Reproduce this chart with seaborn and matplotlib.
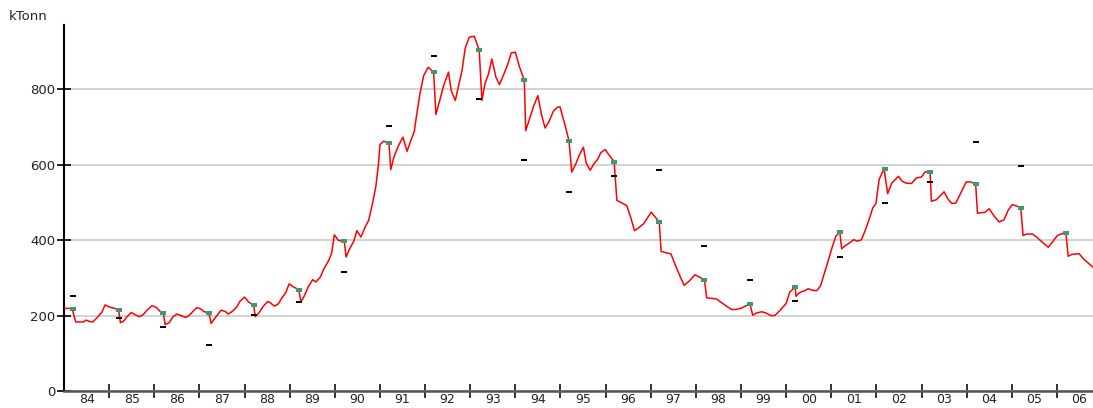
import matplotlib
matplotlib.use("Agg")
import matplotlib.pyplot as plt
import numpy as np
import pandas as pd
import seaborn as sns

# ---- data ----
line_t = [1984.00, 1984.13, 1984.18, 1984.26, 1984.43, 1984.49, 1984.57, 1984.64, 1984.73, 1984.84,
          1984.91, 1985.02, 1985.13, 1985.21, 1985.25, 1985.32, 1985.39, 1985.49, 1985.58, 1985.67,
          1985.75, 1985.84, 1985.95, 1986.04, 1986.13, 1986.20, 1986.24, 1986.33, 1986.41, 1986.50,
          1986.59, 1986.69, 1986.76, 1986.86, 1986.94, 1987.02, 1987.11, 1987.21, 1987.26, 1987.35,
          1987.48, 1987.57, 1987.64, 1987.73, 1987.83, 1987.90, 1988.00, 1988.09, 1988.20, 1988.24,
          1988.32, 1988.42, 1988.51, 1988.57, 1988.66, 1988.75, 1988.83, 1988.91, 1988.99, 1989.08,
          1989.20, 1989.25, 1989.32, 1989.42, 1989.51, 1989.58, 1989.68, 1989.76, 1989.87, 1989.93,
          1989.99, 1990.08, 1990.21, 1990.25, 1990.33, 1990.42, 1990.49, 1990.58, 1990.67, 1990.75,
          1990.83, 1990.91, 1990.97, 1991.00, 1991.08, 1991.20, 1991.24, 1991.31, 1991.41, 1991.51,
          1991.60, 1991.68, 1991.76, 1991.82, 1991.89, 1991.97, 1992.07, 1992.19, 1992.24, 1992.33,
          1992.41, 1992.52, 1992.58, 1992.67, 1992.74, 1992.82, 1992.89, 1992.98, 1993.09, 1993.20,
          1993.26, 1993.33, 1993.40, 1993.48, 1993.57, 1993.65, 1993.74, 1993.83, 1993.91, 1994.00,
          1994.09, 1994.20, 1994.23, 1994.31, 1994.40, 1994.50, 1994.58, 1994.66, 1994.75, 1994.84,
          1994.93, 1994.99, 1995.09, 1995.19, 1995.25, 1995.34, 1995.42, 1995.51, 1995.57, 1995.66,
          1995.74, 1995.83, 1995.89, 1995.99, 1996.08, 1996.19, 1996.25, 1996.34, 1996.47, 1996.56,
          1996.64, 1996.73, 1996.84, 1996.93, 1997.01, 1997.10, 1997.19, 1997.23, 1997.45, 1997.56,
          1997.65, 1997.74, 1997.85, 1997.98, 1998.09, 1998.19, 1998.24, 1998.46, 1998.57, 1998.68,
          1998.79, 1998.89, 1999.02, 1999.11, 1999.20, 1999.26, 1999.35, 1999.46, 1999.55, 1999.66,
          1999.75, 1999.86, 2000.00, 2000.08, 2000.20, 2000.22, 2000.27, 2000.34, 2000.40, 2000.49,
          2000.58, 2000.68, 2000.76, 2000.84, 2000.92, 2001.01, 2001.10, 2001.19, 2001.23, 2001.30,
          2001.41, 2001.50, 2001.58, 2001.67, 2001.76, 2001.84, 2001.92, 2001.99, 2002.06, 2002.17,
          2002.25, 2002.34, 2002.49, 2002.57, 2002.66, 2002.78, 2002.89, 2003.00, 2003.08, 2003.19,
          2003.22, 2003.33, 2003.50, 2003.58, 2003.67, 2003.76, 2003.87, 2003.99, 2004.09, 2004.20,
          2004.24, 2004.41, 2004.50, 2004.60, 2004.72, 2004.83, 2004.92, 2005.01, 2005.11, 2005.20,
          2005.25, 2005.33, 2005.46, 2005.55, 2005.68, 2005.81, 2005.90, 2006.01, 2006.11, 2006.20,
          2006.25, 2006.33, 2006.49, 2006.59, 2006.80]
line_v = [219, 219, 218, 183, 183, 188, 184, 183, 194, 209,
          228, 222, 219, 214, 181, 185, 196, 208, 202, 197,
          202, 214, 226, 222, 211, 207, 176, 181, 196, 204,
          200, 195, 199, 211, 221, 218, 210, 207, 179, 194,
          214, 211, 204, 211, 223, 238, 249, 236, 227, 197,
          207, 225, 237, 234, 225, 231, 247, 260, 284, 276,
          269, 236, 251, 278, 295, 289, 302, 324, 347, 366,
          414, 399, 397, 355, 377, 397, 425, 408, 434, 452,
          494, 542, 604, 653, 662, 657, 587, 620, 650, 673,
          635, 662, 687, 737, 790, 836, 858, 845, 733, 772,
          809, 845, 796, 770, 807, 850, 909, 938, 940, 903,
          770, 816, 838, 880, 832, 812, 838, 865, 896, 898,
          860, 823, 690, 719, 753, 783, 732, 697, 715, 741,
          752, 753, 710, 663, 580, 602, 626, 646, 604, 585,
          602, 615, 631, 640, 625, 608, 505, 500, 491, 459,
          425, 432, 443, 459, 474, 461, 448, 370, 363, 329,
          304, 280, 291, 308, 301, 295, 247, 244, 234, 225,
          216, 216, 220, 226, 230, 201, 207, 210, 207, 200,
          200, 213, 232, 262, 275, 251, 258, 263, 265, 271,
          267, 266, 278, 309, 340, 377, 410, 422, 377, 384,
          393, 401, 397, 401, 428, 455, 485, 497, 560, 590,
          523, 551, 569, 556, 551, 550, 565, 567, 581, 580,
          503, 507, 528, 510, 497, 498, 525, 554, 554, 549,
          471, 474, 483, 465, 448, 454, 479, 494, 490, 486,
          412, 416, 416, 408, 394, 381, 395, 412, 417, 419,
          357, 362, 364, 350, 328]

green_t = [1984.21, 1985.21, 1986.20, 1987.21, 1988.20, 1989.20, 1990.21, 1991.20, 1992.19, 1993.20,
           1994.20, 1995.19, 1996.19, 1997.19, 1998.19, 1999.20, 2000.20, 2001.19, 2002.20, 2003.19,
           2004.20, 2005.20, 2006.20]
green_v = [218, 214, 207, 207, 227, 269, 397, 657, 845, 903,
           823, 663, 608, 448, 295, 230, 275, 422, 588, 580,
           549, 486, 419]

black_t = [1984.21, 1985.21, 1986.20, 1987.21, 1988.20, 1989.20, 1990.21, 1991.20, 1992.19, 1993.20,
           1994.20, 1995.19, 1996.19, 1997.19, 1998.19, 1999.20, 2000.20, 2001.19, 2002.20, 2003.19,
           2004.20, 2005.20]
black_v = [251, 194, 170, 121, 201, 235, 316, 703, 889, 774,
           613, 528, 569, 587, 385, 293, 238, 354, 499, 554,
           660, 596]

year_labels = ["84", "85", "86", "87", "88", "89", "90", "91", "92", "93", "94", "95",
               "96", "97", "98", "99", "00", "01", "02", "03", "04", "05", "06"]
y_ticks = [0, 200, 400, 600, 800]
unit_label = "kTonn"

# ---- figure ----
sns.set_theme(style="white")
plt.rcParams["font.family"] = ["DejaVu Sans"]

W, H = 1093, 408
fig = plt.figure(figsize=(W / 100, H / 100), dpi=100)
ax = fig.add_axes([64 / W, 17 / H, 1 - 64 / W, 366 / H])

df_line = pd.DataFrame({"t": line_t, "v": line_v})
df_green = pd.DataFrame({"t": green_t, "v": green_v})
df_black = pd.DataFrame({"t": black_t, "v": black_v})

sns.lineplot(data=df_line, x="t", y="v", color="#ff0000", linewidth=1.1,
             ax=ax, estimator=None, sort=False, zorder=3)

rect_g = [(-3, -2), (3, -2), (3, 2), (-3, 2)]
rect_b = [(-3, -1.1), (3, -1.1), (3, 1.1), (-3, 1.1)]
sns.scatterplot(data=df_green, x="t", y="v", marker=rect_g, s=20, color="#3d9a6e",
                linewidth=0, ax=ax, zorder=4)
sns.scatterplot(data=df_black, x="t", y="v", marker=rect_b, s=18, color="black",
                linewidth=0, ax=ax, zorder=4)

ax.set_xlim(1984.0, 2006.8)
ax.set_ylim(0, 970)

ax.set_xticks(np.arange(1985, 2007))
ax.set_xticklabels([])
ax.set_xticks(np.arange(1984, 2007) + 0.5, minor=True)
ax.set_xticklabels(year_labels, minor=True)
ax.set_yticks(y_ticks)
ax.set_yticklabels([str(v) for v in y_ticks])

ax.tick_params(axis="x", which="major", direction="inout", length=10, width=1.3,
               color="#222222", bottom=True)
ax.tick_params(axis="x", which="minor", length=0, pad=1.5, labelsize=9, labelcolor="#222222")
ax.tick_params(axis="y", which="major", direction="inout", length=10, width=1.3,
               color="#111111", pad=1, labelsize=9.5, labelcolor="#222222", left=True)

ax.yaxis.grid(True, color="#cfcfcf", linewidth=1.3)
ax.xaxis.grid(False)
ax.set_axisbelow(True)

for side in ["top", "right"]:
    ax.spines[side].set_visible(False)
ax.spines["left"].set_color("black")
ax.spines["left"].set_linewidth(1.5)
ax.spines["bottom"].set_color("#555555")
ax.spines["bottom"].set_linewidth(1.8)

ax.set_xlabel("")
ax.set_ylabel("")
fig.text(9 / W, 1 - 17 / H, unit_label, ha="left", va="center", fontsize=9.5, color="#222222")

fig.savefig("out.png", dpi=100)
